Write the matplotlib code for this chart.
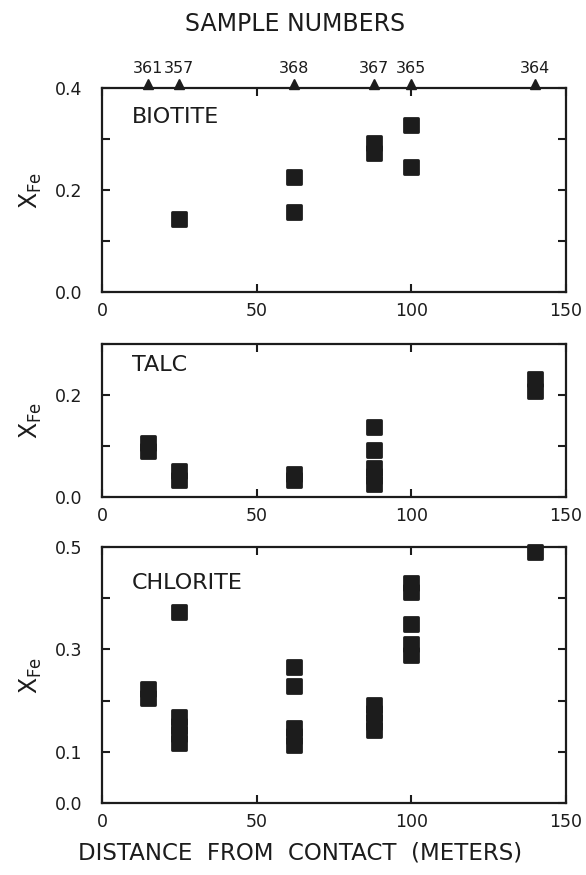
import matplotlib
matplotlib.use("Agg")
import matplotlib.pyplot as plt
from matplotlib.markers import MarkerStyle
from matplotlib import transforms

# Sample locations along the traverse
sample_ids = ["361", "357", "368", "367", "365", "364"]
sample_dist = [15, 25, 62, 88, 100, 140]

# Biotite X_Fe
biotite_x = [25, 62, 62, 88, 88, 100, 100]
biotite_y = [0.143, 0.226, 0.156, 0.292, 0.272, 0.327, 0.245]

# Talc X_Fe
talc_x = [15, 15, 25, 25, 62, 62, 88, 88, 88, 88, 88, 140, 140]
talc_y = [0.105, 0.09, 0.05, 0.033, 0.046, 0.034, 0.137, 0.093, 0.057, 0.042, 0.026, 0.231, 0.207]

# Chlorite X_Fe
chlorite_x = [15, 15, 25, 25, 25, 25, 25, 62, 62, 62, 62, 62,
              88, 88, 88, 88, 100, 100, 100, 100, 100, 140]
chlorite_y = [0.222, 0.205, 0.374, 0.167, 0.150, 0.134, 0.118, 0.265, 0.228, 0.146, 0.130, 0.114,
              0.191, 0.175, 0.159, 0.143, 0.430, 0.412, 0.349, 0.311, 0.289, 0.49]

x_ticks = [0, 50, 100, 150]

INK = "#1c1c1c"
plt.rcParams["font.family"] = ["DejaVu Sans"]

fig = plt.figure(figsize=(5.86, 8.75), dpi=100)

left = 102 / 586
width = 464 / 586
panels = [
    # name, x, y, ylim, yticks, labelled yticks, bottom px, top px
    ("BIOTITE", biotite_x, biotite_y, 0.4, [0, 0.1, 0.2, 0.3, 0.4], [0.0, 0.2, 0.4], 292, 88),
    ("TALC", talc_x, talc_y, 0.3, [0, 0.1, 0.2, 0.3], [0.0, 0.2], 497, 344),
    ("CHLORITE", chlorite_x, chlorite_y, 0.5, [0, 0.1, 0.2, 0.3, 0.4, 0.5], [0.0, 0.1, 0.3, 0.5], 803, 547),
]

marker = MarkerStyle("s", joinstyle="round")
axes = []
for name, xs, ys, ymax, yt, ylab, bpx, tpx in panels:
    ax = fig.add_axes([left, 1 - bpx / 875, width, (bpx - tpx) / 875])
    axes.append(ax)
    ax.plot(xs, ys, linestyle="none", marker=marker, markersize=10,
            markerfacecolor=INK, markeredgecolor=INK, markeredgewidth=2.0,
            clip_on=False, zorder=3)
    ax.set_xlim(0, 150)
    ax.set_ylim(0, ymax)
    ax.set_xticks(x_ticks)
    ax.set_xticklabels([str(t) for t in x_ticks])
    ax.set_yticks(yt)
    ax.set_yticklabels([f"{t:.1f}" if any(abs(t - v) < 1e-9 for v in ylab) else "" for t in yt])
    ax.tick_params(axis="both", direction="in", length=6, width=1.5, color=INK,
                   top=True, right=True, labelsize=12.5, labelcolor=INK)
    ax.tick_params(axis="x", pad=7)
    ax.tick_params(axis="y", pad=14)
    for sp in ax.spines.values():
        sp.set_linewidth(1.6)
        sp.set_color(INK)
    ax.text(0.065, 0.86, name, transform=ax.transAxes, fontsize=16,
            color=INK, ha="left", va="center")
    ax.set_ylabel(r"$\mathregular{X_{Fe}}$", fontsize=17, color=INK, labelpad=8)

# Sample-number markers along the top of the biotite panel
top_ax = axes[0]
tri_tf = transforms.offset_copy(top_ax.get_xaxis_transform(), fig=fig, y=4, units="dots")
top_ax.plot(sample_dist, [1.0] * len(sample_dist), linestyle="none", marker="^",
            markersize=7, color=INK, transform=tri_tf, clip_on=False, zorder=4)
for sid, d in zip(sample_ids, sample_dist):
    top_ax.text(d, 1.0, sid, transform=transforms.offset_copy(
        top_ax.get_xaxis_transform(), fig=fig, y=12, units="dots"),
        ha="center", va="bottom", fontsize=11.5, color=INK)

fig.text(295 / 586, 1 - 24 / 875, "SAMPLE NUMBERS", ha="center", va="center",
         fontsize=17, color=INK)
fig.text(300 / 586, 1 - 853 / 875, "DISTANCE  FROM  CONTACT  (METERS)", ha="center",
         va="center", fontsize=16.5, color=INK)

fig.savefig("out.png", dpi=100, facecolor="white")
